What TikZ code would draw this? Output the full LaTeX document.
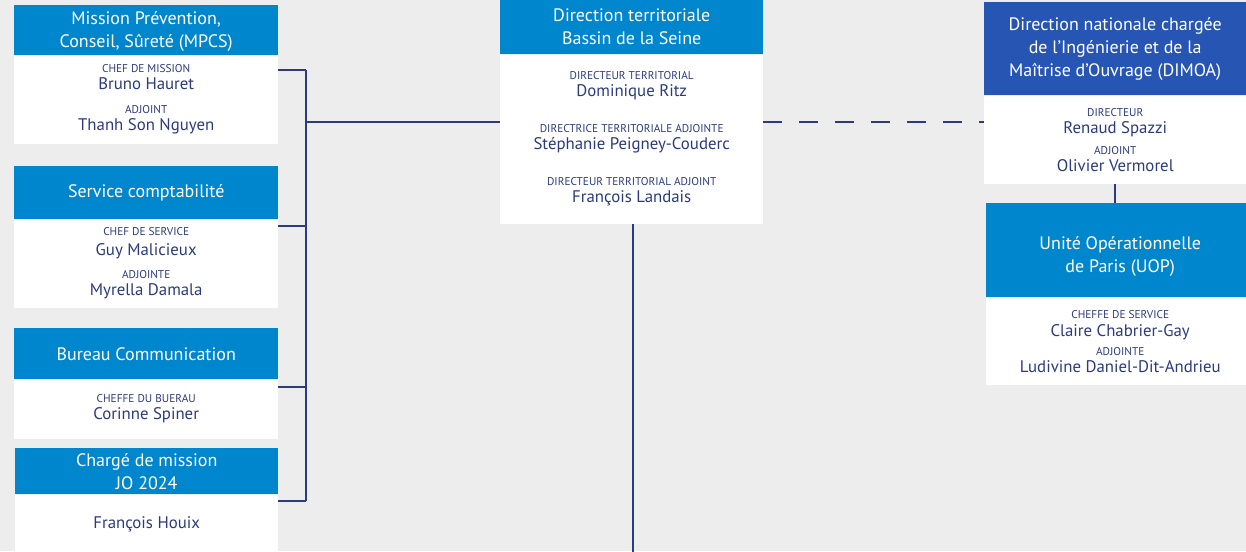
\documentclass[tikz,border=0pt]{standalone}
\usepackage{fontspec}
\setmainfont{PT Sans}
\usetikzlibrary{positioning}

\definecolor{bggray}{HTML}{EDEDED}
\definecolor{unitblue}{HTML}{0086CD}
\definecolor{dirblue}{HTML}{2755B4}
\definecolor{navy}{HTML}{2B3B7D}

% small capitals line above a name
\newcommand{\posttitle}[1]{{\fontsize{11.3}{12}\selectfont #1}}

\tikzset{
    unithead/.style={fill=unitblue, text=white, anchor=north west, inner sep=0pt, align=center, font=\fontsize{18}{23}\selectfont},
    unitbody/.style={fill=white, text=navy, anchor=north west, inner sep=0pt, align=center, font=\fontsize{16.8}{17}\selectfont},
    link/.style={draw=navy, line width=2pt},
}

\begin{document}
\begin{tikzpicture}[x=1pt, y=-1pt]
    \fill[bggray] (0,0) rectangle (1246,551);
    \useasboundingbox (0,0) rectangle (1246,551);

    % left column
    \node[unithead, minimum width=264pt, minimum height=50pt] (mpcs-h) at (14,5) {\rule{0pt}{16pt}Mission Prévention,\\Conseil, Sûreté (MPCS)};
    \node[unitbody, minimum width=264pt, minimum height=88pt] (mpcs) at (mpcs-h.south west) {\posttitle{CHEF DE MISSION}\\Bruno Hauret\\[7pt]\posttitle{ADJOINT}\\Thanh Son Nguyen};

    \node[unithead, minimum width=264pt, minimum height=53pt] (compta-h) at (14,166) {Service comptabilité};
    \node[unitbody, minimum width=264pt, minimum height=88pt] (compta) at (compta-h.south west) {\posttitle{CHEF DE SERVICE}\\[3pt]Guy Malicieux\\[6pt]\posttitle{ADJOINTE}\\Myrella Damala};

    \node[unithead, minimum width=264pt, minimum height=51pt] (com-h) at (14,328) {Bureau Communication};
    \node[unitbody, minimum width=264pt, minimum height=59pt] (com) at (com-h.south west) {\posttitle{CHEFFE DU BUERAU}\\Corinne Spiner};

    \node[unithead, minimum width=263pt, minimum height=46pt] (jo-h) at (15,448) {Chargé de mission\\JO 2024};
    \node[unitbody, minimum width=263pt, minimum height=60pt] (jo) at (jo-h.south west) {François Houix};

    % centre
    \node[unithead, minimum width=263pt, minimum height=55pt] (dt-h) at (500,-1) {Direction territoriale\\Bassin de la Seine};
    \node[unitbody, minimum width=263pt, minimum height=169pt] (dt) at (dt-h.south west) {\posttitle{DIRECTEUR TERRITORIAL}\\Dominique Ritz\\[19pt]\posttitle{DIRECTRICE TERRITORIALE ADJOINTE}\\Stéphanie Peigney-Couderc\\[19pt]\posttitle{DIRECTEUR TERRITORIAL ADJOINT}\\François Landais};

    % right column
    \node[unithead, fill=dirblue, minimum width=262pt, minimum height=93pt] (dimoa-h) at (984,2) {Direction nationale chargée\\de l’Ingénierie et de la\\Maîtrise d’Ouvrage (DIMOA)};
    \node[unitbody, minimum width=262pt, minimum height=88pt] (dimoa) at (dimoa-h.south west) {\posttitle{DIRECTEUR}\\Renaud Spazzi\\[4pt]\posttitle{ADJOINT}\\Olivier Vermorel};

    \node[unithead, minimum width=268pt, minimum height=94pt] (uop-h) at (986,203) {\rule{0pt}{25pt}Unité Opérationnelle\\de Paris (UOP)};
    \node[unitbody, minimum width=268pt, minimum height=87pt] (uop) at (uop-h.south west) {\posttitle{CHEFFE DE SERVICE}\\[1pt]Claire Chabrier-Gay\\[2pt]\posttitle{ADJOINTE}\\Ludivine Daniel-Dit-Andrieu};

    % links
    \coordinate (spine) at (306,122);
    \coordinate (dt-down) at (633,560);
    \foreach \n/\y in {mpcs/70, compta/226, com/387, jo/501}
        \draw[link] (\n.east |- 0,\y) -- (spine |- 0,\y);
    \draw[link] (spine |- 0,70) -- (spine |- 0,501);
    \draw[link] (spine) -- (dt-h.west |- spine);
    \draw[link] (dt-down |- dt.south) -- (dt-down);
    \draw[link, dash pattern=on 19pt off 17pt] (dt.east |- spine) -- (dimoa.west |- spine);
    \draw[link] (dimoa.south) -- (dimoa.south |- uop-h.north);
\end{tikzpicture}
\end{document}
